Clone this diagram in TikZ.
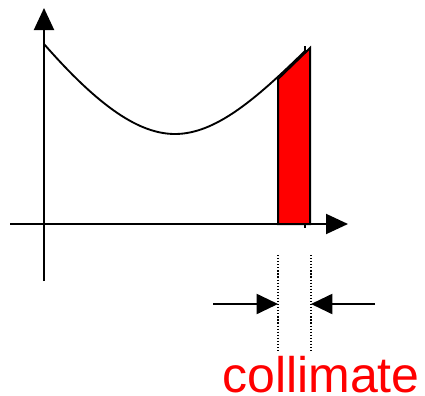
\documentclass[tikz,border=0pt]{standalone}
\usepackage{fontspec}
\setmainfont{Liberation Sans}
\usetikzlibrary{arrows.meta}
\definecolor{pred}{RGB}{255,0,0}
\begin{document}
\begin{tikzpicture}[x=0.75pt,y=-0.75pt,
  axis/.style={line width=1.5pt,-{Triangle[length=16.5pt,width=15pt]}},
  dimarrow/.style={line width=1.5pt,-{Triangle[length=16pt,width=15pt]}},
  guide/.style={line width=0.9pt,dash pattern=on 0.9pt off 1.4pt},
  curve/.style={line width=1.4pt},
  band/.style={fill=pred,draw=black,line width=1.5pt,line join=miter}]
\useasboundingbox (0,0) rectangle (425,396);
% axes
\coordinate (ybot) at (44,281);
\coordinate (ytop) at (44,8);
\coordinate (xl) at (10,224);
\coordinate (xr) at (348,224);
\draw[axis] (ybot) -- (ytop);
\draw[axis] (xl) -- (xr);
% curve
\coordinate (c0) at (44,44);
\coordinate (cmin) at (175,134);
\coordinate (c1) at (305,51);
\draw[curve] (c0) .. controls (100,108) and (140,134) .. (cmin)
  .. controls (215,134) and (255,100) .. (c1);
% vertical marker line
\coordinate (vt) at (305,46);
\coordinate (vb) at (305,228);
\draw[line width=1.2pt] (vt) -- (vb);
% red band
\coordinate (b1) at (278,224);
\coordinate (b2) at (278,79);
\coordinate (b3) at (310,48);
\coordinate (b4) at (310,224);
\draw[band] (b1) -- (b2) -- (b3) -- (b4) -- cycle;
% guides
\coordinate (g1t) at (278,255);
\coordinate (g1b) at (278,352);
\coordinate (g2t) at (311,255);
\coordinate (g2b) at (311,352);
\draw[guide] (g1t) -- (g1b);
\draw[guide] (g2t) -- (g2b);
% dimension arrows
\coordinate (la) at (213,304);
\coordinate (lt) at (278,304);
\coordinate (ra) at (375,304);
\coordinate (rt) at (311,304);
\draw[dimarrow] (la) -- (lt);
\draw[dimarrow] (ra) -- (rt);
% label
\node[anchor=base,inner sep=0pt,text=pred,font=\fontsize{37.5pt}{40pt}\selectfont] (lbl) at (321,392) {collimate};
\end{tikzpicture}
\end{document}
